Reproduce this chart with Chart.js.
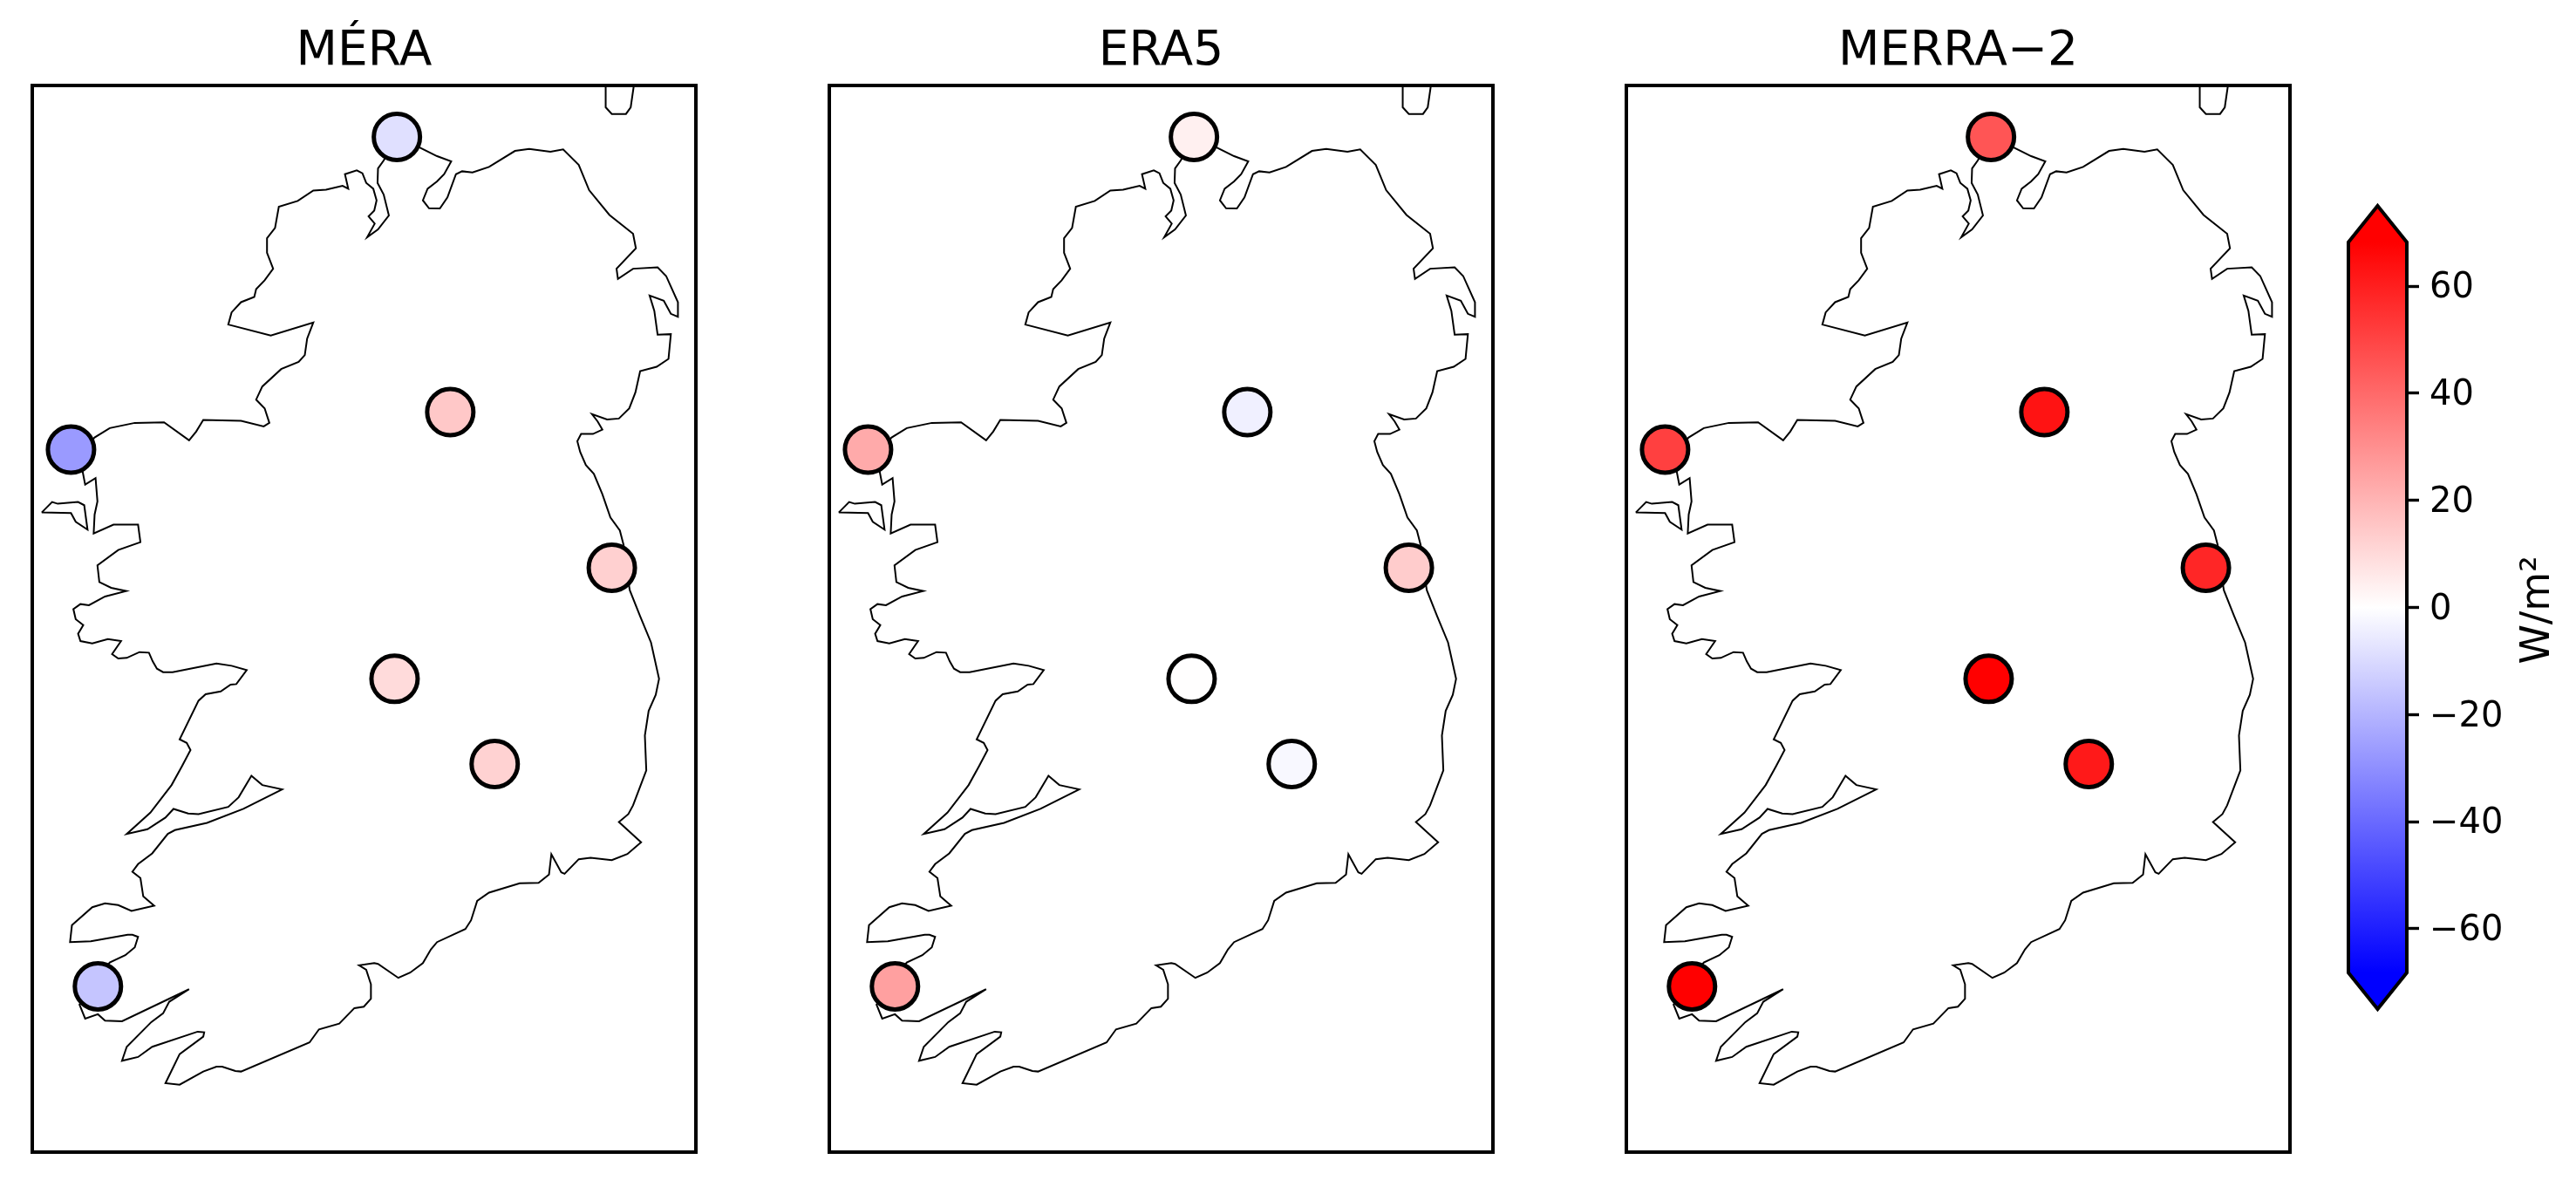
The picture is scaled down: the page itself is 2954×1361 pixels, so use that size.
<!DOCTYPE html>
<html>
<head>
<meta charset="utf-8">
<title>Station bias maps</title>
<script src="https://cdn.jsdelivr.net/npm/chart.js@4"></script>
<style>
  html, body { margin: 0; padding: 0; background: #fff; overflow: hidden; }
  canvas { position: absolute; top: 0; }
</style>
</head>
<body>
<canvas id="panel1" width="781" height="1361" style="left:27px"></canvas>
<canvas id="panel2" width="781" height="1361" style="left:941px"></canvas>
<canvas id="panel3" width="781" height="1361" style="left:1855px"></canvas>
<canvas id="bar" width="274" height="1361" style="left:2680px"></canvas>
<script>
// values in W/m2, same station order everywhere
const stations = ["Malin Head", "Belmullet", "Clones", "Dublin", "Birr", "Kilkenny", "Valentia"];
const stationX = [840, 150, 953, 1295, 835, 1047, 207];
const stationY = [472, 1547, 1418, 1953, 2335, 2628, 3392];
const meraValues = [-8.3, -27, 14.6, 12.5, 9.5, 12, -15.5];
const era5Values = [4, 22.7, -4, 13.6, 0.2, -2, 25.4];
const merraValues = [45.5, 51, 63, 58, 70, 61.5, 70];
const panelTitles = ["MÉRA", "ERA5", "MERRA−2"];

const barTicks = [-60, -40, -20, 0, 20, 40, 60];
const barTickLabels = ["−60", "−40", "−20", "0", "20", "40", "60"];
const barLimit = 68.2;

// coastline (map grid units, y grows southwards)
const coastMain = [[840,475],[890,510],[925,538],[955,556],[940,600],[925,625],[905,650],[895,690],[908,717],[931,718],[947,680],[965,600],[978,590],[1000,594],[1035,575],[1090,520],[1120,513],[1165,523],[1192,515],[1225,568],[1247,655],[1290,740],[1340,805],[1346,855],[1305,925],[1308,960],[1340,925],[1392,920],[1410,950],[1435,1040],[1435,1090],[1420,1080],[1405,1035],[1375,1017],[1385,1070],[1392,1152],[1420,1150],[1415,1235],[1390,1262],[1355,1277],[1345,1350],[1332,1405],[1310,1440],[1285,1443],[1253,1425],[1265,1450],[1275,1478],[1255,1493],[1230,1493],[1222,1518],[1228,1555],[1240,1600],[1257,1630],[1275,1700],[1292,1780],[1312,1825],[1320,1875],[1325,1950],[1333,2030],[1355,2120],[1378,2210],[1395,2335],[1388,2390],[1373,2445],[1365,2530],[1368,2650],[1340,2770],[1330,2800],[1310,2827],[1357,2897],[1328,2937],[1295,2958],[1250,2950],[1225,2955],[1195,3005],[1188,3000],[1167,2938],[1162,3008],[1140,3036],[1100,3038],[1035,3070],[1010,3098],[997,3165],[985,3195],[925,3240],[912,3265],[895,3312],[868,3345],[843,3363],[800,3315],[792,3312],[760,3320],[775,3335],[785,3385],[785,3435],[770,3462],[750,3467],[718,3520],[675,3540],[655,3585],[510,3685],[498,3683],[470,3668],[458,3668],[430,3685],[380,3730],[350,3725],[380,3625],[430,3565],[432,3550],[418,3548],[322,3600],[292,3635],[258,3648],[268,3600],[320,3515],[345,3485],[358,3445],[400,3402],[258,3512],[222,3510],[207,3488],[180,3503],[168,3455],[200,3380],[232,3310],[265,3285],[285,3258],[292,3222],[280,3215],[270,3215],[192,3237],[148,3240],[152,3182],[195,3120],[222,3107],[250,3113],[278,3133],[326,3115],[303,3083],[297,3020],[280,2998],[292,2972],[322,2935],[355,2868],[370,2855],[438,2830],[515,2782],[597,2715],[555,2700],[532,2668],[505,2742],[483,2775],[420,2800],[398,2798],[367,2782],[350,2812],[312,2852],[268,2868],[318,2795],[363,2700],[385,2635],[403,2580],[395,2555],[380,2543],[420,2410],[435,2388],[467,2378],[488,2355],[500,2353],[522,2305],[490,2290],[458,2282],[365,2312],[345,2312],[332,2300],[323,2275],[315,2245],[295,2243],[268,2263],[250,2265],[237,2250],[256,2205],[228,2198],[195,2213],[170,2205],[165,2180],[176,2150],[160,2130],[155,2095],[170,2078],[188,2082],[222,2052],[267,2033],[235,2022],[210,2002],[206,1945],[250,1892],[297,1865],[292,1805],[240,1805],[198,1835],[200,1770],[206,1725],[202,1645],[180,1667],[175,1625],[170,1560],[200,1505],[232,1473],[285,1455],[347,1453],[400,1515],[415,1485],[430,1445],[510,1448],[558,1467],[570,1455],[560,1405],[542,1375],[555,1330],[595,1270],[632,1245],[645,1222],[650,1165],[663,1110],[573,1155],[483,1117],[490,1075],[510,1040],[538,1022],[542,995],[560,965],[578,925],[565,870],[565,820],[582,785],[590,712],[630,692],[663,656],[690,653],[725,640],[737,650],[730,600],[755,587],[767,597],[775,630],[790,650],[797,690],[792,725],[780,745],[793,770],[777,817],[800,790],[823,742],[812,670],[799,630],[800,580],[812,553],[840,475]];
const coastAchill = [[88,1763],[110,1727],[122,1733],[165,1727],[178,1738],[185,1822],[160,1795],[150,1765],[88,1763]];
const coastIslay = [[1282,280],[1282,370],[1295,393],[1325,393],[1335,370],[1343,280]];

const INK = "#000";
const FONT = "'DejaVu Sans'";

// same ramp as the colourbar: blue, white, red
function bwr(v) {
  let t = Math.max(-1, Math.min(1, v / barLimit));
  let c = Math.round(255 * (1 - Math.abs(t)));
  return t < 0 ? `rgb(${c},${c},255)` : `rgb(255,${c},${c})`;
}

const framePlugin = {
  id: "frame",
  afterDraw(chart) {
    let a = chart.chartArea, c = chart.ctx;
    c.save();
    c.strokeStyle = INK;
    c.lineWidth = 4;
    c.strokeRect(a.left, a.top, a.right - a.left, a.bottom - a.top);
    c.restore();
  }
};

function coastDataset(points) {
  return {
    type: "line",
    data: points.map(p => ({ x: p[0], y: p[1] })),
    borderColor: INK,
    borderWidth: 2,
    pointRadius: 0,
    tension: 0,
    fill: false,
    order: 2
  };
}

function makePanel(id, title, values) {
  return new Chart(document.getElementById(id), {
    type: "scatter",
    data: {
      datasets: [
        {
          label: title,
          data: stations.map((s, i) => ({ x: stationX[i], y: stationY[i] })),
          pointRadius: 26.5,
          pointBorderWidth: 5,
          pointBorderColor: INK,
          pointBackgroundColor: values.map(bwr),
          order: 1
        },
        coastDataset(coastMain),
        coastDataset(coastAchill),
        coastDataset(coastIslay)
      ]
    },
    options: {
      responsive: false,
      animation: false,
      devicePixelRatio: 1,
      layout: { autoPadding: false, padding: { left: 10, right: 10, top: 0, bottom: 40 } },
      plugins: {
        legend: { display: false },
        tooltip: { enabled: false },
        title: {
          display: true,
          text: title,
          color: INK,
          font: { family: FONT, size: 55, weight: "normal", lineHeight: 1.2 },
          padding: { top: 27, bottom: 5 }
        }
      },
      scales: {
        x: { type: "linear", display: false, min: 68, max: 1473 },
        y: { type: "linear", display: false, reverse: true, min: 295, max: 3962 }
      }
    },
    plugins: [framePlugin]
  });
}

makePanel("panel1", panelTitles[0], meraValues);
makePanel("panel2", panelTitles[1], era5Values);
makePanel("panel3", panelTitles[2], merraValues);

// colourbar with the two pointed extensions
const barPlugin = {
  id: "colourbar",
  beforeDatasetsDraw(chart) {
    let a = chart.chartArea, c = chart.ctx, y = chart.scales.y;
    let top = y.getPixelForValue(barLimit), bottom = y.getPixelForValue(-barLimit);
    let mid = (a.left + a.right) / 2;
    let grad = c.createLinearGradient(0, bottom, 0, top);
    grad.addColorStop(0, bwr(-barLimit));
    grad.addColorStop(0.5, bwr(0));
    grad.addColorStop(1, bwr(barLimit));
    c.save();
    c.beginPath();
    c.moveTo(mid, a.top);
    c.lineTo(a.right, top);
    c.lineTo(a.right, bottom);
    c.lineTo(mid, a.bottom);
    c.lineTo(a.left, bottom);
    c.lineTo(a.left, top);
    c.closePath();
    c.fillStyle = grad;
    c.fill();
    c.strokeStyle = INK;
    c.lineWidth = 4;
    c.lineJoin = "miter";
    c.stroke();
    c.restore();
  },
  afterDraw(chart) {
    // a right-hand axis title would read top to bottom, this one reads upwards
    let c = chart.ctx;
    c.save();
    c.translate(2923 - 2680, 699.5);
    c.rotate(-Math.PI / 2);
    c.font = "46px " + FONT;
    c.fillStyle = INK;
    c.textAlign = "center";
    c.textBaseline = "alphabetic";
    c.fillText("W/m²", 0, 0);
    c.restore();
  }
};

new Chart(document.getElementById("bar"), {
  type: "scatter",
  data: { datasets: [{ data: [] }] },
  options: {
    responsive: false,
    animation: false,
    devicePixelRatio: 1,
    layout: { autoPadding: false, padding: { left: 13, right: 0, top: 236, bottom: 204 } },
    plugins: { legend: { display: false }, tooltip: { enabled: false } },
    scales: {
      x: { display: false, min: 0, max: 1 },
      y: {
        position: "right",
        min: -75,
        max: 75,
        border: { display: false },
        grid: { drawOnChartArea: false, drawTicks: true, tickLength: 14, tickWidth: 3.4, tickColor: INK },
        afterBuildTicks(scale) { scale.ticks = barTicks.map(v => ({ value: v })); },
        afterFit(scale) { scale.width = 194; },
        ticks: {
          color: INK,
          padding: 12,
          autoSkip: false,
          labelOffset: 3,
          font: { family: FONT, size: 40 },
          callback(v) { return barTickLabels[barTicks.indexOf(v)]; }
        }
      }
    }
  },
  plugins: [barPlugin]
});
</script>
</body>
</html>
